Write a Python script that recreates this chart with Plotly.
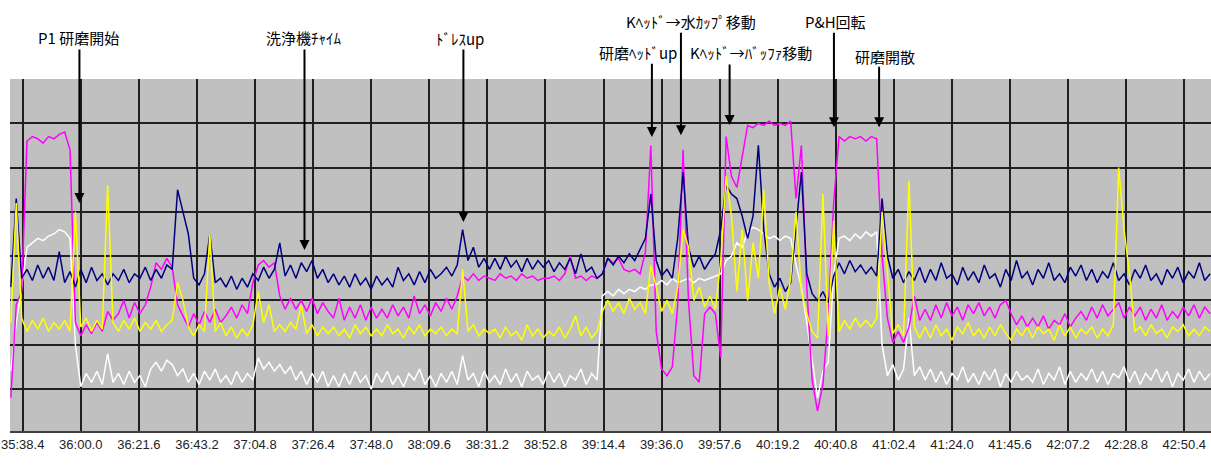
import plotly.graph_objects as go

# ---- x axis tick labels (mm:ss.s) ----
tick_labels = ["35:38.4", "36:00.0", "36:21.6", "36:43.2", "37:04.8", "37:26.4", "37:48.0",
               "38:09.6", "38:31.2", "38:52.8", "39:14.4", "39:36.0", "39:57.6", "40:19.2",
               "40:40.8", "41:02.4", "41:24.0", "41:45.6", "42:07.2", "42:28.8", "42:50.4"]

# sampling of the series (seconds)
t_start = 2134.0
t_step = 2.0

navy = [
    3.3, 5.3, 3.5, 3.7, 3.45, 3.8, 3.5, 3.75, 3.45, 4.1,
    3.4, 3.65, 3.3, 3.7, 3.4, 3.75, 3.45, 3.6, 3.35, 3.6,
    3.45, 3.7, 3.4, 3.6, 3.5, 3.75, 3.45, 3.7, 3.5, 3.8,
    3.7, 5.5, 5.0, 4.5, 3.5, 3.35, 3.6, 4.5, 3.4, 3.5,
    3.3, 3.55, 3.25, 3.5, 3.3, 3.6, 3.45, 3.75, 3.5, 3.7,
    4.3, 3.55, 3.8, 3.5, 3.85, 3.65, 3.9, 3.5, 3.7, 3.4,
    3.6, 3.35, 3.55, 3.3, 3.6, 3.35, 3.5, 3.25, 3.55, 3.35,
    3.5, 3.3, 3.75, 3.45, 3.6, 3.35, 3.65, 3.4, 3.7, 3.5,
    3.6, 3.75, 3.55, 3.8, 4.6, 3.9, 4.2, 3.75, 3.95, 3.7,
    3.95, 3.7, 4.0, 3.75, 3.9, 3.65, 3.95, 3.7, 3.9, 3.75,
    3.9, 3.65, 3.85, 3.7, 3.95, 3.6, 4.05, 3.65, 3.75, 3.5,
    3.6, 3.95, 3.8, 4.0, 3.85, 4.05, 3.9, 4.15, 4.4, 5.4,
    3.9, 3.55, 3.7, 3.5, 4.4, 5.9, 4.2, 3.75, 4.0, 3.7,
    3.9, 4.05, 4.6, 5.6, 5.4, 5.3, 4.9, 4.4, 4.9, 6.5,
    4.6, 3.6, 3.3, 3.5, 3.2, 3.4, 4.6, 5.9, 3.6, 3.15,
    3.0, 3.2, 2.95, 3.55, 3.85, 3.6, 3.9, 3.65, 3.8, 3.6,
    3.75, 3.55, 5.3, 4.0, 3.5, 3.7, 3.4, 3.65, 3.45, 3.75,
    3.4, 3.7, 3.45, 3.85, 3.5, 3.6, 3.35, 3.75, 3.45, 3.65,
    3.4, 3.8, 3.5, 3.6, 3.3, 3.7, 3.45, 3.9, 3.5, 3.65,
    3.35, 3.7, 3.5, 3.85, 3.45, 3.6, 3.4, 3.75, 3.55, 3.8,
    3.45, 3.7, 3.4, 3.65, 3.5, 3.85, 3.45, 3.6, 3.35, 3.7,
    3.5, 3.8, 3.45, 3.6, 3.35, 3.7, 3.5, 3.75, 3.4, 3.65,
    3.5, 3.85, 3.45, 3.6,
]

magenta = [
    0.8, 2.9, 3.2, 6.6, 6.7, 6.65, 6.55, 6.7, 6.65, 6.75,
    6.8, 6.4, 2.5, 2.2, 2.45, 2.25, 2.5, 2.3, 2.75, 2.55,
    2.7, 3.0, 2.6, 2.95, 2.7, 2.9, 3.3, 3.85, 3.7, 3.95,
    3.75, 2.9, 2.65, 2.4, 2.7, 2.45, 2.75, 2.5, 2.8, 2.5,
    2.65, 2.85, 2.6, 2.9, 2.7, 3.4, 3.8, 3.9, 3.75, 3.85,
    3.1, 2.8, 3.05, 2.8, 3.0, 2.75, 3.05, 2.7, 2.95, 2.75,
    2.6, 3.05, 2.55, 2.85, 2.6, 2.9, 2.55, 2.85, 2.6, 2.8,
    2.6, 2.9, 2.65, 2.85, 2.6, 3.1, 2.7, 2.9, 2.65, 2.95,
    2.75, 3.05, 2.8, 3.1, 3.55, 3.45, 3.6, 3.45, 3.55, 3.5,
    3.45, 3.6, 3.5, 3.55, 3.45, 3.6, 3.5, 3.55, 3.45, 3.5,
    3.5, 3.55, 3.45, 3.6, 4.0, 3.5, 3.55, 3.45, 3.55, 3.5,
    3.6, 3.95, 3.85, 3.95, 3.7, 3.65, 3.7, 3.6, 4.1, 6.5,
    2.3, 1.45, 1.3, 1.5, 2.9, 6.4, 3.0, 1.3, 1.15, 2.7,
    2.85, 2.7, 1.7, 6.7, 5.8, 5.55, 6.3, 6.95, 6.9, 7.0,
    6.95, 7.05, 6.95, 7.0, 6.95, 7.05, 5.3, 6.5, 3.3, 1.2,
    0.5, 1.1, 2.7, 5.2, 6.7, 6.6, 6.7, 6.65, 6.7, 6.6,
    6.7, 6.65, 4.0, 2.6, 2.05, 2.3, 2.05, 2.4, 3.1, 2.55,
    2.8, 2.55, 2.9, 2.6, 2.95, 2.65, 2.85, 2.55, 2.9, 2.7,
    2.95, 2.65, 2.85, 2.6, 2.9, 3.0, 2.7, 2.45, 2.65, 2.4,
    2.6, 2.4, 2.65, 2.35, 2.55, 2.45, 2.7, 2.4, 2.6, 2.75,
    2.55, 2.85, 2.6, 2.9, 2.65, 2.8, 2.95, 2.6, 2.85, 2.65,
    2.85, 2.55, 2.8, 2.6, 2.9, 2.55, 2.75, 2.6, 2.85, 2.65,
    2.9, 2.6, 2.85, 2.7,
]

yellow = [
    2.5, 5.2, 2.6, 2.3, 2.55, 2.35, 2.6, 2.3, 2.5, 2.35,
    2.55, 2.3, 5.0, 2.4, 2.6, 2.3, 2.55, 2.35, 5.6, 2.5,
    2.3, 2.55, 2.35, 2.6, 2.3, 2.5, 2.35, 2.55, 2.3, 2.45,
    2.55, 3.4, 3.0, 2.4, 2.2, 2.45, 2.3, 4.5, 2.3, 2.5,
    2.2, 2.4, 2.15, 2.35, 2.2, 2.45, 3.2, 2.5, 2.9, 2.3,
    2.45, 2.3, 2.5, 2.35, 2.9, 2.25, 2.45, 2.2, 2.4, 2.25,
    2.4, 2.2, 2.35, 2.15, 2.45, 2.25, 2.4, 2.2, 2.35, 2.2,
    2.45, 2.25, 2.35, 2.15, 2.4, 2.25, 2.45, 2.2, 2.35, 2.25,
    2.4, 2.2, 2.35, 2.25, 3.7, 2.3, 2.45, 2.2, 2.35, 2.25,
    2.35, 2.15, 2.4, 2.2, 2.3, 2.1, 2.45, 2.2, 2.35, 2.15,
    2.3, 2.2, 2.4, 2.15, 2.35, 2.65, 2.2, 2.4, 2.15, 2.3,
    2.75, 3.0, 2.75, 2.95, 2.7, 3.05, 2.8, 2.95, 2.7, 3.8,
    3.3, 2.75, 3.0, 2.7, 3.3, 4.6, 4.2, 3.0, 3.3, 2.85,
    3.1, 2.8, 3.9, 5.8, 4.9, 3.2, 4.6, 3.0, 4.3, 3.5,
    5.5, 3.4, 2.7, 3.3, 2.8, 3.5, 5.0, 3.2, 2.7, 2.3,
    2.15, 5.4, 2.2, 4.8, 2.3, 2.55, 2.35, 2.6, 2.4, 2.55,
    2.4, 2.6, 5.0, 3.6, 2.25, 2.45, 2.2, 5.7, 2.4, 2.15,
    2.4, 2.15, 2.45, 2.2, 2.35, 2.1, 2.4, 2.25, 2.5, 2.2,
    2.35, 2.15, 2.4, 2.2, 2.45, 2.25, 2.1, 2.35, 2.2, 2.4,
    2.15, 2.4, 2.25, 2.35, 2.1, 2.45, 2.2, 2.4, 2.15, 2.35,
    2.25, 2.4, 2.15, 2.35, 2.2, 2.45, 6.0, 4.6, 3.6, 2.3,
    2.4, 2.2, 2.45, 2.25, 2.35, 2.15, 2.4, 2.3, 2.45, 2.2,
    2.35, 2.2, 2.4, 2.3,
]

white = [
    1.4, 2.5, 3.3, 4.2, 4.3, 4.4, 4.35, 4.45, 4.5, 4.6,
    4.55, 4.4, 2.0, 1.05, 1.35, 1.15, 1.4, 1.1, 1.8, 1.15,
    1.35, 1.1, 1.4, 1.15, 1.3, 1.05, 1.45, 1.6, 1.4, 1.65,
    1.55, 1.3, 1.45, 1.15, 1.35, 1.1, 1.4, 1.2, 1.45, 1.15,
    1.3, 1.1, 1.4, 1.15, 1.35, 1.2, 1.7, 1.45, 1.6, 1.4,
    1.55, 1.35, 1.5, 1.2, 1.4, 1.1, 1.35, 1.15, 1.4, 1.05,
    1.3, 1.05, 1.35, 1.1, 1.4, 1.15, 1.3, 1.0, 1.35, 1.15,
    1.4, 1.1, 1.3, 1.05, 1.35, 1.2, 1.45, 1.1, 1.3, 1.05,
    1.35, 1.15, 1.4, 1.1, 1.75, 1.2, 1.35, 1.05, 1.4, 1.15,
    1.3, 1.1, 1.45, 1.15, 1.35, 1.05, 1.4, 1.2, 1.3, 1.1,
    1.4, 1.15, 1.35, 1.05, 1.3, 1.2, 1.45, 1.1, 1.35, 1.2,
    3.1, 3.2, 3.1, 3.25, 3.15, 3.25, 3.2, 3.3, 3.25, 3.35,
    3.35, 3.45, 3.35, 3.5, 3.4, 3.45, 3.5, 3.4, 3.5, 3.45,
    3.5, 3.55, 3.6, 3.9, 4.0, 4.3, 4.2, 4.55, 4.65, 4.6,
    4.5, 4.4, 4.45, 4.35, 4.45, 4.4, 3.8, 3.3, 2.5, 1.6,
    0.8, 1.4, 1.6, 3.6, 4.4, 4.45, 4.35, 4.5, 4.4, 4.55,
    4.45, 4.55, 2.0, 1.3, 1.55, 1.2, 1.45, 2.6, 1.3, 1.5,
    1.2, 1.45, 1.15, 1.4, 1.1, 1.35, 1.2, 1.5, 1.15, 1.35,
    1.1, 1.4, 1.2, 1.45, 1.05, 1.35, 1.15, 1.4, 1.2, 1.3,
    1.15, 1.45, 1.1, 1.35, 1.2, 1.5, 1.1, 1.4, 1.15, 1.35,
    1.2, 1.45, 1.15, 1.4, 1.1, 1.35, 1.25, 1.5, 1.15, 1.4,
    1.1, 1.35, 1.2, 1.45, 1.15, 1.4, 1.05, 1.35, 1.2, 1.45,
    1.15, 1.4, 1.2, 1.35,
]

# event labels: (text, text_x_sec, text_y_paper, tip_x_sec, tip_y, tail_y)
events = [
    ("P1 研磨開始", 2159.15, 1.1165, 2159.5, 5.20, 8.70),
    ("洗浄機ﾁｬｲﾑ", 2243.2, 1.1165, 2243.2, 4.14, 8.70),
    ("ﾄﾞﾚｽup", 2301.0, 1.114, 2302.3, 4.77, 8.70),
    ("研磨ﾍｯﾄﾞup", 2367.2, 1.074, 2372.4, 6.69, 8.38),
    ("Kﾍｯﾄﾞ→水ｶｯﾌﾟ移動", 2387.1, 1.162, 2383.2, 6.73, 9.08),
    ("Kﾍｯﾄﾞ→ﾊﾞｯﾌｧ移動", 2409.1, 1.074, 2401.3, 6.96, 8.36),
    ("P&H回転", 2440.5, 1.162, 2440.1, 6.91, 9.08),
    ("研磨開散", 2459.1, 1.065, 2456.9, 6.91, 8.31),
]


def to_sec(lbl):
    m, s = lbl.split(":")
    return int(m) * 60 + float(s)


tick_vals = [to_sec(l) for l in tick_labels]


def times_for(series):
    return [t_start + t_step * i for i in range(len(series))]


fig = go.Figure()
series = [("white", white, "#ffffff"), ("magenta", magenta, "#ff00ff"),
          ("navy", navy, "#000080"), ("yellow", yellow, "#ffff00")]
for name, vals, col in series:
    fig.add_trace(go.Scatter(x=times_for(vals), y=vals, mode="lines", name=name,
                             line=dict(color=col, width=1.5), hoverinfo="skip"))

annos = []
for text, tx, ty, px, py, tail in events:
    annos.append(dict(x=px, y=py, xref="x", yref="y", ax=px, ay=tail, axref="x", ayref="y",
                      text="", showarrow=True, arrowhead=2, arrowsize=1, arrowwidth=2,
                      arrowcolor="#000000"))
    annos.append(dict(x=tx, y=ty, xref="x", yref="paper", text=text, showarrow=False,
                      xanchor="center", yanchor="middle",
                      font=dict(family="Noto Sans CJK JP", size=15, color="#000000")))

fig.update_layout(
    width=1211, height=465,
    margin=dict(l=10, r=0, t=79, b=34, autoexpand=False),
    paper_bgcolor="#ffffff", plot_bgcolor="#c0c0c0",
    showlegend=False,
    annotations=annos,
    xaxis=dict(range=[2133.68, 2580.33], tickvals=tick_vals, ticktext=tick_labels,
               showgrid=True, gridcolor="#202020", gridwidth=1.5, zeroline=False,
               showline=True, linecolor="#404040", linewidth=2, ticks="",
               automargin=False,
               tickfont=dict(family="Liberation Sans", size=13, color="#222222")),
    yaxis=dict(range=[0.05, 8.0], tickvals=[1, 2, 3, 4, 5, 6, 7], showticklabels=False,
               showgrid=True, gridcolor="#202020", gridwidth=1.5, zeroline=False,
               showline=False, ticks="", automargin=False),
)

fig.write_html("out.html", config={"displayModeBar": False},
               post_script="document.body.style.margin='0px';document.body.style.overflow='hidden';")
